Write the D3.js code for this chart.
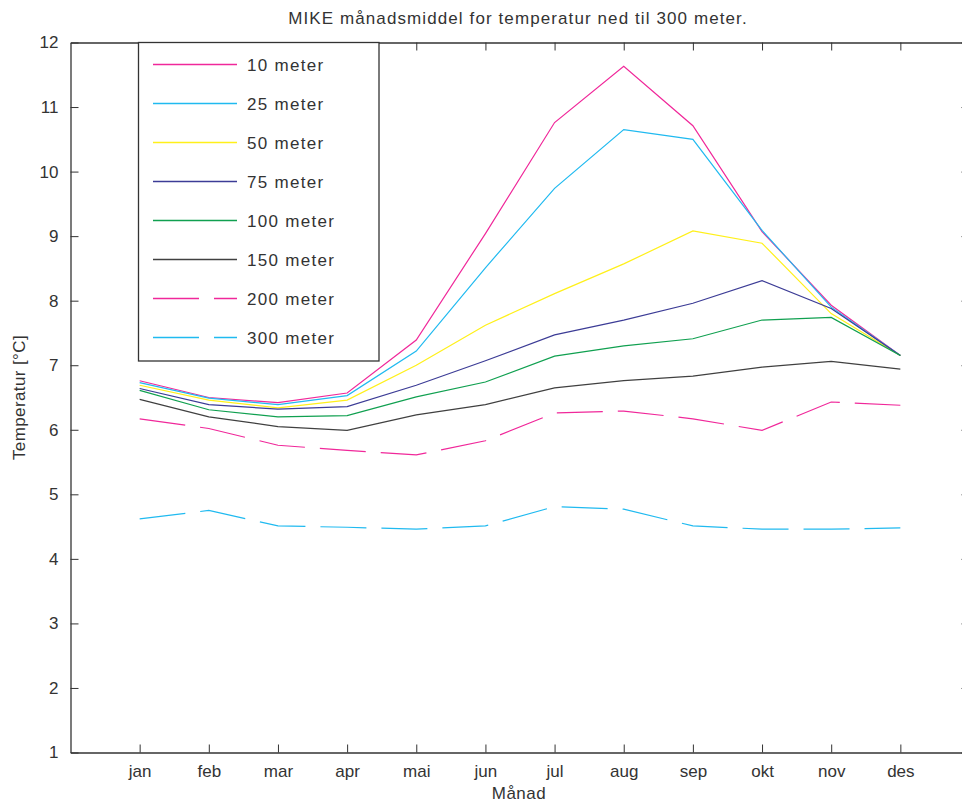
<!DOCTYPE html>
<html><head><meta charset="utf-8">
<script src="https://cdn.jsdelivr.net/npm/d3@7"></script>
<style>
body{margin:0;background:#fff;}
text{font-family:"Liberation Sans",Arial,sans-serif;fill:#333;}
</style></head>
<body><svg id="c" width="962" height="805"></svg>
<script>
const months = ["jan","feb","mar","apr","mai","jun","jul","aug","sep","okt","nov","des"];
const yTicks = [1,2,3,4,5,6,7,8,9,10,11,12];
const labels = ["10 meter","25 meter","50 meter","75 meter","100 meter","150 meter","200 meter","300 meter"];
const colors = ["#f0289a","#20baf0","#fff01a","#3c3c96","#10a050","#404040","#f0289a","#20baf0"];
const dashed = [false,false,false,false,false,false,true,true];
const m10  = [6.76,6.50,6.42,6.57,7.39,9.04,10.76,11.63,10.71,9.07,7.93,7.15];
const m25  = [6.73,6.49,6.39,6.53,7.22,8.51,9.74,10.65,10.50,9.09,7.90,7.15];
const m50  = [6.69,6.46,6.34,6.46,7.00,7.62,8.11,8.57,9.08,8.89,7.80,7.15];
const m75  = [6.64,6.39,6.32,6.36,6.69,7.07,7.47,7.70,7.96,8.31,7.88,7.15];
const m100 = [6.61,6.31,6.20,6.22,6.51,6.74,7.14,7.30,7.41,7.70,7.74,7.15];
const m150 = [6.47,6.20,6.05,5.99,6.23,6.39,6.65,6.76,6.83,6.97,7.06,6.94];
const m200 = [6.17,6.02,5.76,5.68,5.61,5.83,6.26,6.29,6.17,5.99,6.43,6.38];
const m300 = [4.62,4.75,4.51,4.49,4.46,4.51,4.81,4.77,4.51,4.46,4.46,4.48];
const series = [m10,m25,m50,m75,m100,m150,m200,m300];

const svg = d3.select("#c");
const L=70.5, R=969.5, T=42.5, B=752.5;
const x = d3.scaleLinear().domain([0,13]).range([L,R]);
const y = d3.scaleLinear().domain([1,12]).range([B,T]);
const axisCol="#333";

// lines
const line = d3.line().x((d,i)=>x(i+1)).y(d=>y(d));
svg.append("clipPath").attr("id","cp").append("rect").attr("x",L).attr("y",T).attr("width",R-L).attr("height",B-T);
const g = svg.append("g").attr("clip-path","url(#cp)");
series.forEach((s,k)=>{
  g.append("path").datum(s).attr("d",line).attr("fill","none")
   .attr("stroke",colors[k]).attr("stroke-width",1.2)
   .attr("stroke-dasharray",dashed[k]?"46,15":null);
});

// axes
const xb = d3.axisBottom(x).tickValues(d3.range(1,13)).tickFormat(d=>months[d-1]).tickSizeInner(-8).tickSizeOuter(0).tickPadding(12);
const xt = d3.axisTop(x).tickValues(d3.range(1,13)).tickFormat("").tickSizeInner(-8).tickSizeOuter(0);
const yl = d3.axisLeft(y).tickValues(yTicks).tickFormat(d3.format("d")).tickSizeInner(-8).tickSizeOuter(0).tickPadding(12);
const yr = d3.axisRight(y).tickValues(yTicks).tickFormat("").tickSizeInner(-8).tickSizeOuter(0);
function style(sel){
  sel.selectAll(".domain").attr("stroke",axisCol).attr("stroke-width",1.3);
  sel.selectAll(".tick line").attr("stroke",axisCol).attr("stroke-width",1);
  sel.selectAll("text").attr("font-size",17).attr("fill","#333").attr("font-family","Liberation Sans, Arial, sans-serif");
}
svg.append("g").attr("transform",`translate(0,${B})`).call(xb).call(style);
svg.append("g").attr("transform",`translate(0,${T})`).call(xt).call(style);
svg.append("g").attr("transform",`translate(${L},0)`).call(yl).call(style);
svg.append("g").attr("transform",`translate(${R},0)`).call(yr).call(style);

// titles
svg.append("text").attr("x",518).attr("y",24).attr("text-anchor","middle").attr("font-size",17).attr("letter-spacing",1.1).text("MIKE månadsmiddel for temperatur ned til 300 meter.");
svg.append("text").attr("x",519).attr("y",799).attr("text-anchor","middle").attr("font-size",17).attr("letter-spacing",0.5).text("Månad");
svg.append("text").attr("transform",`translate(25,${(T+B)/2}) rotate(-90)`).attr("text-anchor","middle").attr("font-size",17).attr("letter-spacing",0.4).text("Temperatur [°C]");

// legend
const lg = svg.append("g");
lg.append("rect").attr("x",138.5).attr("y",T).attr("width",240.5).attr("height",318.5).attr("fill","#fff").attr("stroke",axisCol).attr("stroke-width",1.3);
labels.forEach((lab,k)=>{
  const yy = 64.5 + k*39;
  lg.append("line").attr("x1",153).attr("x2",237).attr("y1",yy).attr("y2",yy)
    .attr("stroke",colors[k]).attr("stroke-width",1.4).attr("stroke-dasharray",dashed[k]?"46,15":null);
  lg.append("text").attr("x",247).attr("y",yy+6).attr("font-size",17).attr("letter-spacing",1.3).text(lab);
});
</script></body></html>
